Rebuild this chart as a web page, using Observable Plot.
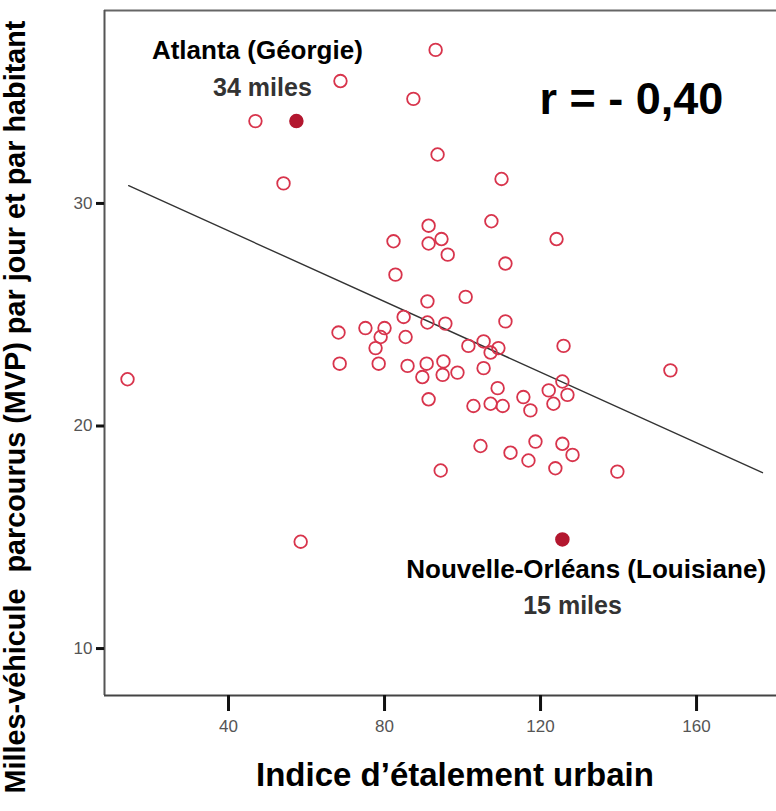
<!DOCTYPE html>
<html><head><meta charset="utf-8">
<script src="https://cdn.jsdelivr.net/npm/d3@7"></script>
<script src="https://cdn.jsdelivr.net/npm/@observablehq/plot@0.6"></script>
<style>body{margin:0;background:#fff} #chart{width:776px;height:811px}</style>
</head><body><div id="chart"></div><script>
// Indice d'étalement urbain (x) et MVP par jour et par habitant (y)
const sprawl = [93.1,68.7,87.4,46.9,54.1,93.6,110.0,107.4,91.3,82.3,94.6,91.3,96.2,111.0,82.8,124.1,91.0,100.8,111.0,84.9,91.0,95.6,68.2,75.1,80.0,79.0,85.4,77.7,101.5,105.4,109.2,107.2,125.9,68.5,78.5,85.9,90.8,95.1,89.7,94.9,98.7,105.4,153.3,14.1,109.0,102.8,107.2,110.3,115.6,117.4,122.1,125.6,126.9,123.3,91.3,104.6,112.3,116.9,118.7,125.6,128.2,123.8,94.4,139.7,58.5];
const vmt = [36.9,35.5,34.7,33.7,30.9,32.2,31.1,29.2,29.0,28.3,28.4,28.2,27.7,27.3,26.8,28.4,25.6,25.8,24.7,24.9,24.65,24.6,24.2,24.4,24.4,24.0,24.0,23.5,23.6,23.8,23.5,23.3,23.6,22.8,22.8,22.7,22.8,22.9,22.2,22.3,22.4,22.6,22.5,22.1,21.7,20.9,21.0,20.9,21.3,20.7,21.6,22.0,21.4,21.0,21.2,19.1,18.8,18.45,19.3,19.2,18.7,18.1,18.0,17.95,14.8];
const highlightCity = ["Atlanta (Géorgie)", "Nouvelle-Orléans (Louisiane)"];
const highlightSprawl = [57.4, 125.6];
const highlightVmt = [33.7, 14.9];
const highlightMiles = ["34 miles", "15 miles"];
const fitSprawl = [14.4, 176.9];
const fitVmt = [30.8, 17.9];
const xTicks = [40, 80, 120, 160];
const yTicks = [10, 20, 30];
const xDomain = [8.2, 180.5];
const yDomain = [7.89, 38.67];
const rLabel = "r = - 0,40";
// label anchor positions (data units)
const cityLabelX = [47.4, 131.7], cityLabelY = [36.47, 13.19];
const milesLabelX = [48.7, 128.2], milesLabelY = [34.81, 11.53];
const rLabelX = 143.3, rLabelY = 34.04;

const points = sprawl.map((x, i) => ({x, y: vmt[i]}));
const hl = highlightCity.map((c, i) => ({c, x: highlightSprawl[i], y: highlightVmt[i]}));
const fit = fitSprawl.map((x, i) => ({x, y: fitVmt[i]}));
const cityLabels = highlightCity.map((t, i) => ({t, x: cityLabelX[i], y: cityLabelY[i]}));
const milesLabels = highlightMiles.map((t, i) => ({t, x: milesLabelX[i], y: milesLabelY[i]}));

const font = "'Liberation Sans', Arial, Helvetica, sans-serif";
const chart = Plot.plot({
  width: 776, height: 811,
  marginLeft: 104, marginRight: 0, marginTop: 10, marginBottom: 116,
  style: {fontFamily: font, background: "#fff"},
  x: {domain: xDomain},
  y: {domain: yDomain},
  marks: [
    Plot.ruleY([yDomain[1]], {stroke: "#666", strokeWidth: 2}),
    Plot.ruleX([xDomain[0]], {stroke: "#555", strokeWidth: 2}),
    Plot.ruleY([yDomain[0]], {stroke: "#444", strokeWidth: 2}),
    Plot.line(fit, {x: "x", y: "y", stroke: "#333", strokeWidth: 1.4}),
    Plot.dot(points, {x: "x", y: "y", r: 6.3, stroke: "#d8344c", strokeWidth: 1.8, fill: "none"}),
    Plot.dot(hl, {x: "x", y: "y", r: 6.5, fill: "#b3172f", stroke: "#b3172f"}),
    Plot.axisX(xTicks, {tickSize: 16, tickPadding: 8, strokeWidth: 3, stroke: "#111", fill: "#555", fontSize: 17, label: null}),
    Plot.axisY(yTicks, {tickSize: 8, tickPadding: 4, strokeWidth: 3, stroke: "#111", fill: "#555", fontSize: 17, label: null}),
    Plot.text(cityLabels, {x: "x", y: "y", text: "t", textAnchor: "middle", lineAnchor: "bottom", fontSize: 26, fontWeight: "bold", fill: "#000"}),
    Plot.text(milesLabels, {x: "x", y: "y", text: "t", textAnchor: "middle", lineAnchor: "bottom", fontSize: 25, fontWeight: "bold", fill: "#333"}),
    Plot.text([rLabel], {x: () => rLabelX, y: () => rLabelY, text: d => d, textAnchor: "middle", lineAnchor: "bottom", fontSize: 45, fontWeight: "bold", fill: "#000"})
  ]
});
document.getElementById("chart").appendChild(chart);
const svg = d3.select(chart);
svg.append("text").attr("x", 455).attr("y", 786).attr("text-anchor", "middle")
  .attr("font-family", font).attr("font-weight", "bold").attr("font-size", 33).attr("fill", "#000")
  .text("Indice d’étalement urbain");
svg.append("text").attr("transform", "translate(25,407) rotate(-90)").attr("text-anchor", "middle")
  .attr("font-family", font).attr("font-weight", "bold").attr("font-size", 28.8).attr("fill", "#000")
  .attr("xml:space", "preserve").style("white-space", "pre")
  .text("Milles-véhicule  parcourus (MVP) par jour et par habitant");
</script></body></html>
